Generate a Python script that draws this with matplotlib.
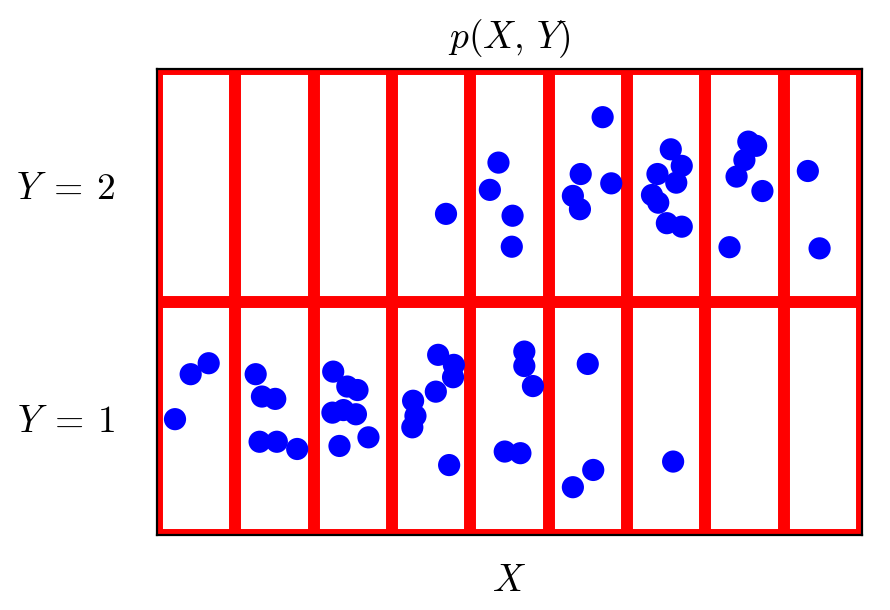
import matplotlib
matplotlib.use("Agg")
import matplotlib.pyplot as plt

plt.rcParams["mathtext.fontset"] = "cm"

# ── Data (x in bin units 0–9, y: 1 / 2 rows) ─────────────────────────────────
top_x = [3.69, 4.36, 4.25, 4.54, 4.53,
         5.69, 5.41, 5.80, 5.31, 5.40,
         6.56, 6.70, 6.39, 6.63, 6.32, 6.40, 6.51, 6.70,
         7.55, 7.65, 7.50, 7.40, 7.73, 7.31,
         8.31, 8.46]
top_y = [1.878, 2.098, 1.981, 1.870, 1.737,
         2.293, 2.049, 2.009, 1.955, 1.898,
         2.155, 2.084, 2.049, 2.012, 1.959, 1.926, 1.838, 1.823,
         2.188, 2.170, 2.109, 2.038, 1.976, 1.735,
         2.062, 1.730]

bot_x = [0.23, 0.43, 0.66,
         1.26, 1.34, 1.51, 1.31, 1.53, 1.79,
         2.25, 2.43, 2.56, 2.24, 2.38, 2.54, 2.33, 2.70,
         3.59, 3.79, 3.78, 3.56, 3.27, 3.30, 3.26, 3.73,
         4.44, 4.64, 4.69, 4.69, 4.80,
         5.50, 5.57, 5.31,
         6.59]
bot_y = [0.997, 1.190, 1.237,
         1.190, 1.094, 1.084, 0.900, 0.900, 0.869,
         1.201, 1.137, 1.122, 1.025, 1.036, 1.018, 0.882, 0.919,
         1.273, 1.230, 1.177, 1.115, 1.076, 1.011, 0.962, 0.800,
         0.858, 0.851, 1.287, 1.225, 1.139,
         1.234, 0.779, 0.705,
         0.815]

n_bins = 9
row_labels = [r"$Y\;=\:1$", r"$Y\;=\:2$"]

# ── Figure ───────────────────────────────────────────────────────────────────
fig = plt.figure(figsize=(8.9, 6.1), dpi=100)
ax = fig.add_axes([0.1764, 0.123, 0.792, 0.764])

red_lw = 8.6
for b in range(n_bins + 1):
    ax.axvline(b, color="red", lw=red_lw, zorder=1)
for h in (0.5, 1.5, 2.5):
    ax.axhline(h, color="red", lw=red_lw, zorder=1)

ax.scatter(top_x + bot_x, top_y + bot_y, s=255, color="blue",
           edgecolors="none", zorder=3)

ax.set_xlim(0, n_bins)
ax.set_ylim(0.5, 2.5)
ax.set_xticks([])
ax.set_yticks([1, 2])
ax.set_yticklabels(row_labels, fontsize=27)
ax.tick_params(axis="y", length=0, pad=30)

for sp in ax.spines.values():
    sp.set_color("black")
    sp.set_linewidth(1.6)
    sp.set_zorder(4)

ax.set_title(r"$p(X,\,Y)$", fontsize=27, pad=15)
ax.set_xlabel("$X$", fontsize=27, labelpad=20)

fig.savefig("out.png", dpi=100, facecolor="white")
